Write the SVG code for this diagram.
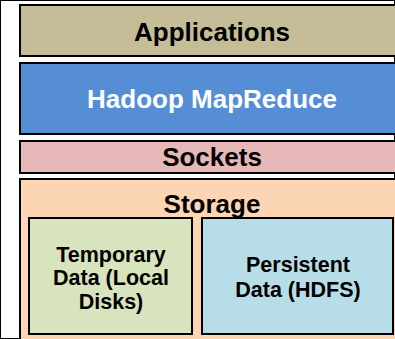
<svg xmlns="http://www.w3.org/2000/svg" width="395" height="339" viewBox="0 0 395 339">
<style>
rect{stroke:#000;stroke-width:2}
text{font-family:"Liberation Sans",Arial,sans-serif;font-weight:bold;text-anchor:middle;fill:#000}
.big{font-size:26px}
.small{font-size:21.5px}
</style>
<rect x="0" y="0" width="395" height="339" fill="#fff" stroke="none"/>
<g id="applications">
<rect x="20" y="5" width="390" height="51" fill="#C4BD97"/>
<text class="big" x="212" y="41">Applications</text>
</g>
<g id="mapreduce">
<rect x="20" y="63" width="390" height="71" fill="#558ED5"/>
<text class="big" x="212" y="108" style="fill:#fff">Hadoop MapReduce</text>
</g>
<g id="sockets">
<rect x="20" y="141" width="390" height="32" fill="#E6B9B8"/>
<text class="big" x="212" y="166">Sockets</text>
</g>
<g id="storage">
<rect x="20" y="179" width="390" height="180" fill="#FCD5B5"/>
<text class="big" x="212" y="213">Storage</text>
</g>
<g id="temporary">
<rect x="29" y="218" width="163" height="116" fill="#D7E4BD"/>
<text class="small" x="111" y="261.5">Temporary</text>
<text class="small" x="111" y="285">Data (Local</text>
<text class="small" x="111" y="308.5">Disks)</text>
</g>
<g id="persistent">
<rect x="202" y="218" width="191" height="116" fill="#B7DEE8"/>
<text class="small" x="298" y="271.5">Persistent</text>
<text class="small" x="298" y="296.5">Data (HDFS)</text>
</g>
<g id="connectors"></g>
</svg>
